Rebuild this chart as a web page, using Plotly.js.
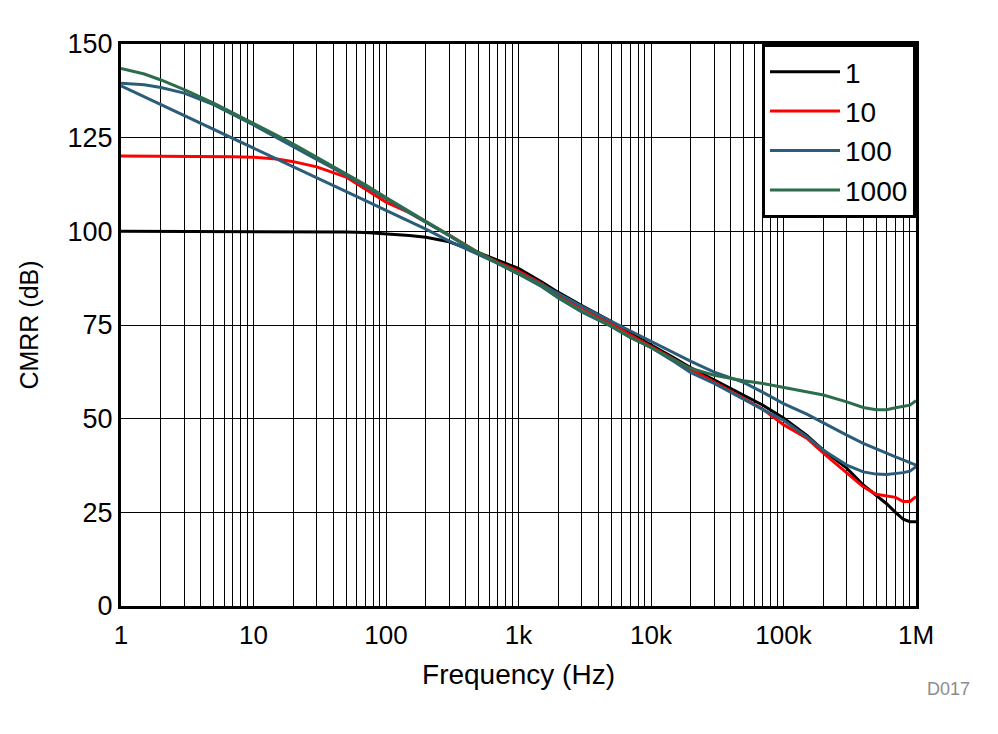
<!DOCTYPE html>
<html>
<head>
<meta charset="utf-8">
<script src="https://cdn.plot.ly/plotly-3.0.1.min.js"></script>
<style>
  html, body { margin: 0; padding: 0; background: #ffffff; }
  #chart { width: 998px; height: 734px; }
</style>
</head>
<body>
<div id="chart"></div>
<script>
// Frequency points (Hz)
var freq = [1, 1.5, 2, 3, 5, 7, 10, 15, 20, 30, 50, 70, 100, 150, 200, 300, 500, 700,
  1e3, 1.5e3, 2e3, 3e3, 5e3, 7e3, 1e4, 1.5e4, 2e4, 3e4, 5e4, 7e4,
  1e5, 1.5e5, 2e5, 3e5, 4e5, 5e5, 6e5, 7e5, 8e5, 9e5, 1e6];

// CMRR (dB) for gain = 1
var cmrrG1 = [100, 100, 100, 100, 100, 100, 100, 100, 100, 100, 99.8, 99.7, 99.4, 98.9, 98.4, 97.2, 94.3, 92.2,
  90.1, 86.5, 83.7, 80.2, 76.0, 72.8, 69.8, 66.2, 63.6, 60.3, 56.3, 53.6,
  50.2, 45.5, 41.6, 36.8, 32.3, 29.6, 27.3, 25.0, 23.2, 22.5, 22.5];

// CMRR (dB) for gain = 10
var cmrrG10 = [120.1, 120.1, 120, 120, 120, 119.9, 119.8, 119.3, 118.6, 117.2, 114.5, 111.3, 107.8, 105.0, 102.6, 99.0, 94.3, 91.7,
  89.4, 86.0, 83.0, 79.6, 75.4, 72.3, 69.3, 65.8, 63.1, 59.8, 55.4, 52.5,
  48.4, 44.8, 40.8, 35.4, 31.8, 29.8, 29.3, 29.0, 27.9, 27.9, 29.2];

// CMRR (dB) for gain = 100 (measured trace forms a loop: outgoing and return sweeps)
var cmrrG100Out = [138.8, 135.9, 133.8, 130.9, 127.2, 124.8, 122.2, 119.3, 117.2, 114.3, 110.6, 108.2, 105.6, 102.7, 100.6, 97.4, 93.8, 91.3,
  88.9, 85.8, 83.4, 80.0, 76.0, 73.4, 70.8, 67.6, 65.3, 62.4, 59.7, 57.0,
  54.0, 51.2, 48.8, 45.6, 43.4, 41.9, 40.8, 39.8, 39.0, 38.3, 37.6];
var cmrrG100Ret = [139.5, 139.1, 138.4, 136.9, 133.8, 131.2, 128.4, 125.0, 122.7, 119.2, 115.0, 112.0, 108.8, 105.0, 102.4, 98.8, 94.0, 91.3,
  88.6, 85.2, 82.2, 78.5, 74.6, 71.6, 69.0, 65.2, 62.3, 59.4, 55.2, 52.4,
  49.6, 45.2, 41.6, 37.6, 35.8, 35.2, 35.1, 35.3, 35.6, 36.0, 37.2];

// CMRR (dB) for gain = 1000
var cmrrG1000 = [143.5, 142.0, 140.4, 137.8, 134.2, 131.6, 128.9, 125.6, 123.3, 119.8, 115.5, 112.4, 109.0, 105.3, 102.6, 99.0, 94.3, 91.5,
  88.8, 85.5, 82.3, 78.8, 74.8, 71.8, 68.9, 65.7, 63.4, 61.6, 60.1, 59.4,
  58.4, 57.3, 56.3, 54.5, 53.0, 52.4, 52.4, 52.9, 53.2, 53.6, 54.8];

var seriesNames = ['1', '10', '100', '1000'];
var seriesColors = ['#000000', '#ff0000', '#2b5d7b', '#2d6d4b'];

var decadeLabels = ['1', '10', '100', '1k', '10k', '100k', '1M'];
var yTicks = [0, 25, 50, 75, 100, 125, 150];

// Build log grid tick positions (1..9 per decade), labels only at decades
var xTickVals = [], xTickText = [];
for (var d = 0; d < 6; d++) {
  for (var m = 1; m <= 9; m++) {
    xTickVals.push(m * Math.pow(10, d));
    xTickText.push(m === 1 ? decadeLabels[d] : '');
  }
}
xTickVals.push(1e6); xTickText.push(decadeLabels[6]);

var font = 'Liberation Sans, Arial, Helvetica, sans-serif';

var g100x = freq.concat(freq.slice().reverse());
var g100y = cmrrG100Out.concat(cmrrG100Ret.slice().reverse());

var traces = [
  {x: freq, y: cmrrG1, name: seriesNames[0], mode: 'lines', line: {color: seriesColors[0], width: 3}},
  {x: freq, y: cmrrG10, name: seriesNames[1], mode: 'lines', line: {color: seriesColors[1], width: 3}},
  {x: g100x, y: g100y, name: seriesNames[2], mode: 'lines', line: {color: seriesColors[2], width: 3}},
  {x: freq, y: cmrrG1000, name: seriesNames[3], mode: 'lines', line: {color: seriesColors[3], width: 3}}
];

var layout = {
  width: 998, height: 734,
  margin: {l: 121, r: 82, t: 44, b: 128, pad: 0},
  paper_bgcolor: '#ffffff', plot_bgcolor: '#ffffff',
  font: {family: font, color: '#000000', size: 26},
  showlegend: true,
  legend: {
    x: 1, y: 1, xanchor: 'right', yanchor: 'top',
    bgcolor: '#ffffff', bordercolor: '#000000', borderwidth: 3,
    font: {family: font, size: 28, color: '#000000'},
    itemwidth: 70
  },
  xaxis: {
    type: 'log', range: [0, 6],
    tickmode: 'array', tickvals: xTickVals, ticktext: xTickText,
    showgrid: true, gridcolor: '#000000', gridwidth: 1,
    showline: true, linecolor: '#000000', linewidth: 3, mirror: true,
    ticks: '', zeroline: false,
    tickfont: {family: font, size: 26, color: '#000000'},
    ticklabelstandoff: 4,
    title: {text: 'Frequency (Hz)', font: {family: font, size: 28, color: '#000000'}, standoff: 16}
  },
  yaxis: {
    range: [0, 150], tickmode: 'array', tickvals: yTicks,
    showgrid: true, gridcolor: '#000000', gridwidth: 1,
    showline: true, linecolor: '#000000', linewidth: 3, mirror: true,
    ticks: '', zeroline: false,
    tickfont: {family: font, size: 27, color: '#000000'},
    title: {text: 'CMRR (dB)', font: {family: font, size: 25, color: '#000000'}, standoff: 22}
  },
  annotations: [{
    text: 'D017', xref: 'paper', yref: 'paper', x: 1.0704, y: -0.1477,
    xanchor: 'right', yanchor: 'middle', showarrow: false,
    font: {family: font, size: 18, color: '#8c8c8c'}
  }]
};

Plotly.newPlot('chart', traces, layout, {staticPlot: true, displayModeBar: false});
</script>
</body>
</html>
